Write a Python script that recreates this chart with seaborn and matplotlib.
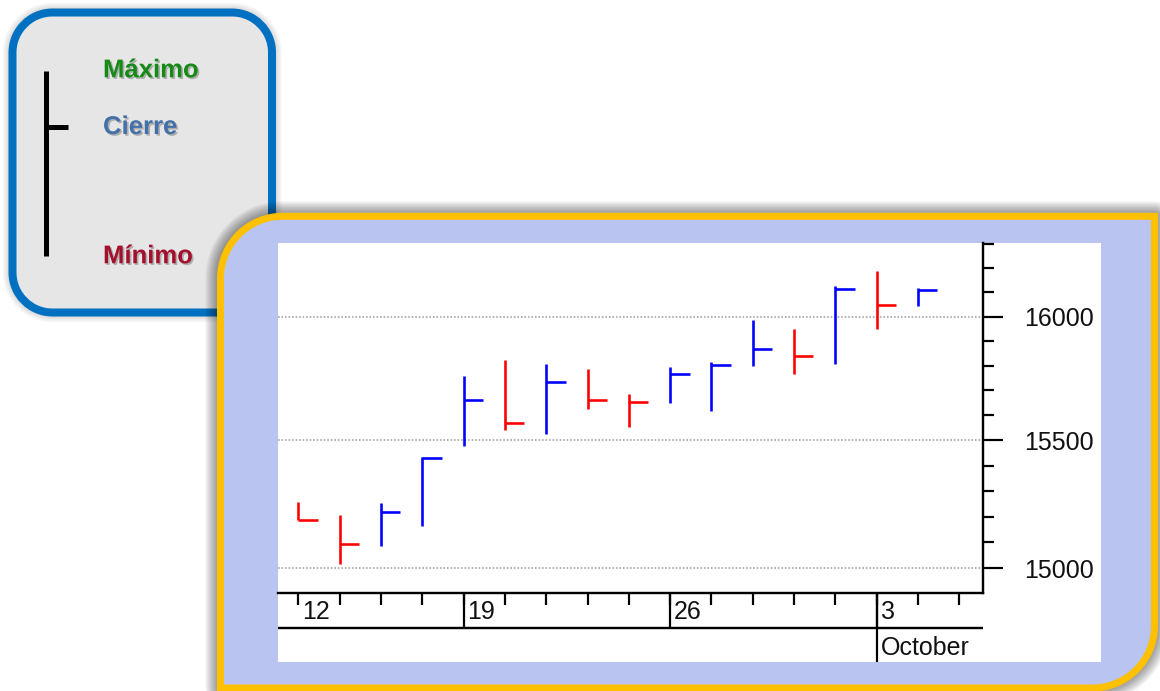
import numpy as np
import pandas as pd
import matplotlib
matplotlib.use("Agg")
import matplotlib.pyplot as plt
import matplotlib.patheffects as pe
from matplotlib.path import Path
from matplotlib.patches import PathPatch, Rectangle
from matplotlib.ticker import FixedLocator, NullFormatter
import seaborn as sns

# %% data
dates = ["2011-09-12", "2011-09-13", "2011-09-14", "2011-09-15",
         "2011-09-19", "2011-09-20", "2011-09-21", "2011-09-22", "2011-09-23",
         "2011-09-26", "2011-09-27", "2011-09-28", "2011-09-29", "2011-09-30",
         "2011-10-03", "2011-10-04"]
high = [15257, 15205, 15253, 15434, 15759, 15824, 15807, 15786,
        15684, 15796, 15813, 15986, 15948, 16128, 16188, 16119]
low = [15185, 15017, 15087, 15162, 15479, 15540, 15526, 15627,
       15553, 15649, 15618, 15799, 15767, 15806, 15948, 16044]
close = [15188, 15092, 15217, 15432, 15660, 15569, 15735, 15660,
         15654, 15766, 15803, 15869, 15841, 16114, 16049, 16109]
y_major = [15000, 15500, 16000]
legend_labels = ["Máximo", "Cierre", "Mínimo"]
month_names = {9: "September", 10: "October"}

sns.set_theme(style="white")
plt.rcParams["font.family"] = ["Liberation Sans", "DejaVu Sans"]
plt.rcParams["lines.solid_capstyle"] = "butt"

W, H = 1160, 691


def px(v):
    # pixels -> points at dpi 100
    return v * 0.72


def rounded(x0, y0, x1, y1, r_tl, r_tr, r_br, r_bl):
    k = 0.5523
    v, c = [(x0 + r_tl, y0)], [Path.MOVETO]
    v.append((x1 - r_tr, y0)); c.append(Path.LINETO)
    if r_tr:
        v += [(x1 - r_tr + k * r_tr, y0), (x1, y0 + r_tr - k * r_tr), (x1, y0 + r_tr)]
        c += [Path.CURVE4] * 3
    v.append((x1, y1 - r_br)); c.append(Path.LINETO)
    if r_br:
        v += [(x1, y1 - r_br + k * r_br), (x1 - r_br + k * r_br, y1), (x1 - r_br, y1)]
        c += [Path.CURVE4] * 3
    v.append((x0 + r_bl, y1)); c.append(Path.LINETO)
    if r_bl:
        v += [(x0 + r_bl - k * r_bl, y1), (x0, y1 - r_bl + k * r_bl), (x0, y1 - r_bl)]
        c += [Path.CURVE4] * 3
    v.append((x0, y0 + r_tl)); c.append(Path.LINETO)
    if r_tl:
        v += [(x0, y0 + r_tl - k * r_tl), (x0 + r_tl - k * r_tl, y0), (x0 + r_tl, y0)]
        c += [Path.CURVE4] * 3
    v.append((x0 + r_tl, y0)); c.append(Path.CLOSEPOLY)
    return Path(v, c)


def shadow(ax, path, spread, z, alpha=0.03):
    for w in np.linspace(spread, 4, 10):
        ax.add_patch(PathPatch(path, fc="none", ec="black", lw=px(w),
                               alpha=alpha, zorder=z, joinstyle="round"))


fig = plt.figure(figsize=(W / 100, H / 100), dpi=100)
fig.patch.set_facecolor("white")

# background drawing layer in pixel coords
bg = fig.add_axes([0, 0, 1, 1])
bg.set_xlim(0, W)
bg.set_ylim(H, 0)
bg.axis("off")

# legend box
blue_box = rounded(12.5, 12.5, 272, 312.5, 40, 40, 40, 40)
shadow(bg, blue_box, 20, 1, 0.02)
bg.add_patch(PathPatch(blue_box, fc="#e6e6e6", ec="#0070c0", lw=px(8), zorder=2))
bg.plot([45.7, 45.7], [70.7, 256], color="black", lw=px(5), zorder=3)
bg.plot([45.7, 68.3], [126.7, 126.7], color="black", lw=px(5), zorder=3)
txt_shadow = [pe.withSimplePatchShadow(offset=(1.2, -1.2), shadow_rgbFace="#444444", alpha=0.35)]
for lbl, yb, col in zip(legend_labels, [77.3, 134.0, 263.3], ["#168a16", "#4470a8", "#a3102c"]):
    bg.text(103, yb, lbl, color=col, fontsize=18.5, fontweight="bold",
            va="baseline", ha="left", zorder=3, path_effects=txt_shadow)

# chart frame
gold_box = rounded(220.5, 216.3, 1154.5, 688, 62, 0, 62, 0)
shadow(bg, gold_box, 30, 4, 0.05)
bg.add_patch(PathPatch(gold_box, fc="#b9c4f0", ec="#ffc000", lw=px(7), zorder=5))
bg.add_patch(Rectangle((278.3, 243.3), 1101 - 278.3, 661.7 - 243.3, fc="white", ec="none", zorder=6))

# %% price chart
df = pd.DataFrame({"date": pd.to_datetime(dates), "high": high, "low": low, "close": close})
df["idx"] = np.arange(len(df))
df["dir"] = np.where(df["close"].diff() > 0, "up", "down")
hl = df.melt(id_vars=["idx", "dir"], value_vars=["low", "high"], value_name="price")

left, right_px, top, bottom = 278.3, 983.3, 243.3, 593.0
ax = fig.add_axes([left / W, 1 - bottom / H, (right_px - left) / W, (bottom - top) / H])
ax.set_facecolor("none")
ax.set_zorder(10)

colors = {"up": "#0000ff", "down": "#ff0000"}
sns.lineplot(data=hl, x="idx", y="price", units="idx", estimator=None, hue="dir",
             palette=colors, legend=False, linewidth=px(2.6), sort=False, ax=ax)
ax.hlines(df["close"], df["idx"], df["idx"] + 0.47, colors=df["dir"].map(colors), lw=px(2.6))

ax.set_yscale("log")
ax.set_xlim(-0.484, 16.58)
ax.set_ylim(14905, 16304)
ax.set(xlabel="", ylabel="")

ax.yaxis.tick_right()
ax.yaxis.set_major_locator(FixedLocator(y_major))
ax.set_yticklabels([str(v) for v in y_major])
ax.yaxis.set_minor_locator(FixedLocator(np.arange(15000, 16400, 100)))
ax.yaxis.set_minor_formatter(NullFormatter())
ax.tick_params(axis="y", which="both", left=False, right=True, direction="out", color="black")
ax.tick_params(axis="y", which="major", length=px(20), width=px(2.2), pad=px(21),
               labelsize=18, labelcolor="#111111")
ax.tick_params(axis="y", which="minor", length=px(11), width=px(2.2))
ax.tick_params(axis="x", bottom=False, labelbottom=False)
ax.set_xticks([])

for s in ["left", "top"]:
    ax.spines[s].set_visible(False)
for s in ["right", "bottom"]:
    ax.spines[s].set_visible(True)
    ax.spines[s].set_color("black")
    ax.spines[s].set_linewidth(px(2.4))

ax.grid(axis="y", which="major", color="#a0a0a0", ls=(0, (1, 1.2)), lw=px(1.6))
ax.grid(axis="x", visible=False)
ax.set_axisbelow(True)

# %% date strip under the chart
strip_h = 661.7 - bottom
strip = fig.add_axes([left / W, 1 - 661.7 / H, (right_px - left) / W, strip_h / H])
strip.set_zorder(10)
strip.set_xlim(ax.get_xlim())
strip.set_ylim(0, strip_h)
strip.axis("off")
mid = 661.7 - 628

strip.plot(ax.get_xlim(), [mid, mid], color="black", lw=px(2.4), clip_on=False)
strip.vlines(np.arange(len(df) + 1), strip_h - 12, strip_h, color="black", lw=px(2.2), clip_on=False)
prev = None
for i, d in zip(df["idx"], df["date"]):
    if d.weekday() == 0 or prev is None:
        if prev is not None:
            strip.vlines(i, mid, strip_h, color="black", lw=px(2.2), clip_on=False)
        strip.annotate(str(d.day), (i, 661.7 - 619.3), xytext=(px(4), 0), textcoords="offset points",
                       va="baseline", ha="left", fontsize=18, color="#111111")
    if prev is not None and d.month != prev.month:
        strip.vlines(i, 0, strip_h, color="black", lw=px(2.2), clip_on=False)
        strip.annotate(month_names[d.month], (i, 661.7 - 655), xytext=(px(4), 0), textcoords="offset points",
                       va="baseline", ha="left", fontsize=18, color="#111111")
    prev = d

fig.savefig("out.png", dpi=100, facecolor="white")
